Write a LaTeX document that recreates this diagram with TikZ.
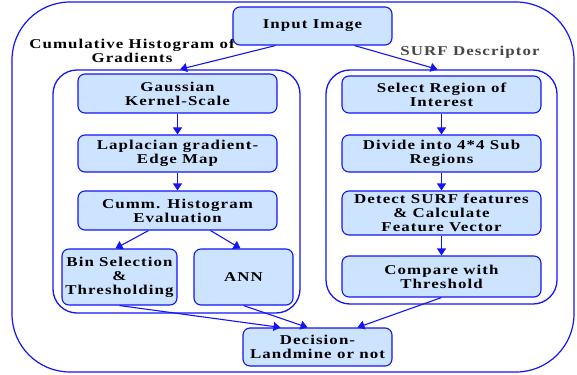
\documentclass[tikz,border=0pt]{standalone}
\usepackage{fontspec}
\setmainfont{Liberation Serif}[FakeStretch=1.25,LetterSpace=8]
\usetikzlibrary{arrows.meta,calc}
\definecolor{boxfill}{RGB}{204,228,255}
\definecolor{lineblue}{RGB}{20,20,245}
\definecolor{labelgray}{RGB}{70,70,70}
\tikzset{
  stepbox/.style={draw=lineblue, line width=1.1pt, fill=boxfill, rounded corners=7pt,
    align=center, inner sep=1pt, font={\fontsize{13.5}{14}\selectfont\bfseries}},
  container/.style={draw=lineblue, line width=1.3pt, rounded corners=24pt},
  arr/.style={-{Triangle[length=7pt,width=9pt]}, draw=lineblue, line width=1.1pt},
  lbl/.style={align=center, font={\fontsize{13.5}{14}\selectfont\bfseries}, inner sep=0pt}
}
\begin{document}
\begin{tikzpicture}[x=1pt,y=-1pt]
\useasboundingbox (0,0) rectangle (577,374);
% outer frame
\node[draw=lineblue, line width=1.2pt, rounded corners=58pt, minimum width=562pt, minimum height=370pt] (outer) at (293,187) {};
% containers
\node[container, minimum width=247pt, minimum height=243pt] (left) at (176.5,191.5) {};
\node[container, minimum width=231pt, minimum height=234pt] (right) at (441.5,187) {};
% labels
\node[lbl] (lblchog) at (132,51) {Cumulative Histogram of\\Gradients};
\node[lbl, text=labelgray] (lblsurf) at (470,52) {SURF Descriptor};
% boxes
\node[stepbox, minimum width=159pt, minimum height=38pt] (input) at (312.5,26) {Input Image};
\node[stepbox, minimum width=199pt, minimum height=39pt] (gauss) at (177.5,93.5) {Gaussian\\Kernel-Scale};
\node[stepbox, minimum width=199pt, minimum height=37pt] (lap) at (177.5,153.5) {Laplacian gradient-\\Edge Map};
\node[stepbox, minimum width=199pt, minimum height=39pt] (cumm) at (177.5,210.5) {Cumm. Histogram\\Evaluation};
\node[stepbox, minimum width=115pt, minimum height=56pt] (bin) at (119.5,277) {Bin Selection\\\&\\Thresholding};
\node[stepbox, minimum width=99pt, minimum height=56pt] (ann) at (243.5,277) {ANN};
\node[stepbox, minimum width=149pt, minimum height=38pt] (dec) at (317.5,347) {Decision-\\Landmine or not};
\node[stepbox, minimum width=199pt, minimum height=37pt] (sel) at (441.5,94.5) {Select Region of\\Interest};
\node[stepbox, minimum width=199pt, minimum height=37pt] (div) at (441.5,153.5) {Divide into 4*4 Sub\\Regions};
\node[stepbox, minimum width=199pt, minimum height=44pt] (det) at (441.5,213) {Detect SURF features\\\& Calculate\\Feature Vector};
\node[stepbox, minimum width=199pt, minimum height=41pt] (cmp) at (441.5,276.5) {Compare with\\Threshold};
% arrows
\draw[arr] ($(input.south)+(-37,0)$) -- ($(left.north)+(3.5,0)$);
\draw[arr] ($(input.south)+(42,0)$) -- ($(right.north)+(-4,0)$);
\draw[arr] (gauss) -- (lap);
\draw[arr] (lap) -- (cumm);
\draw[arr] ($(cumm.south)+(-29,0)$) -- ($(bin.north)+(-4,0)$);
\draw[arr] ($(cumm.south)+(33,0)$) -- ($(ann.north)+(-3,0)$);
\draw[arr] (bin.south) -- ($(dec.north)+(-37,0)$);
\draw[arr] (ann.south) -- ($(dec.north)+(-10,0)$);
\draw[arr] (sel) -- (div);
\draw[arr] (div) -- (det);
\draw[arr] (det) -- (cmp);
\draw[arr] (cmp.south) -- ($(dec.north)+(40,0)$);
\end{tikzpicture}
\end{document}
